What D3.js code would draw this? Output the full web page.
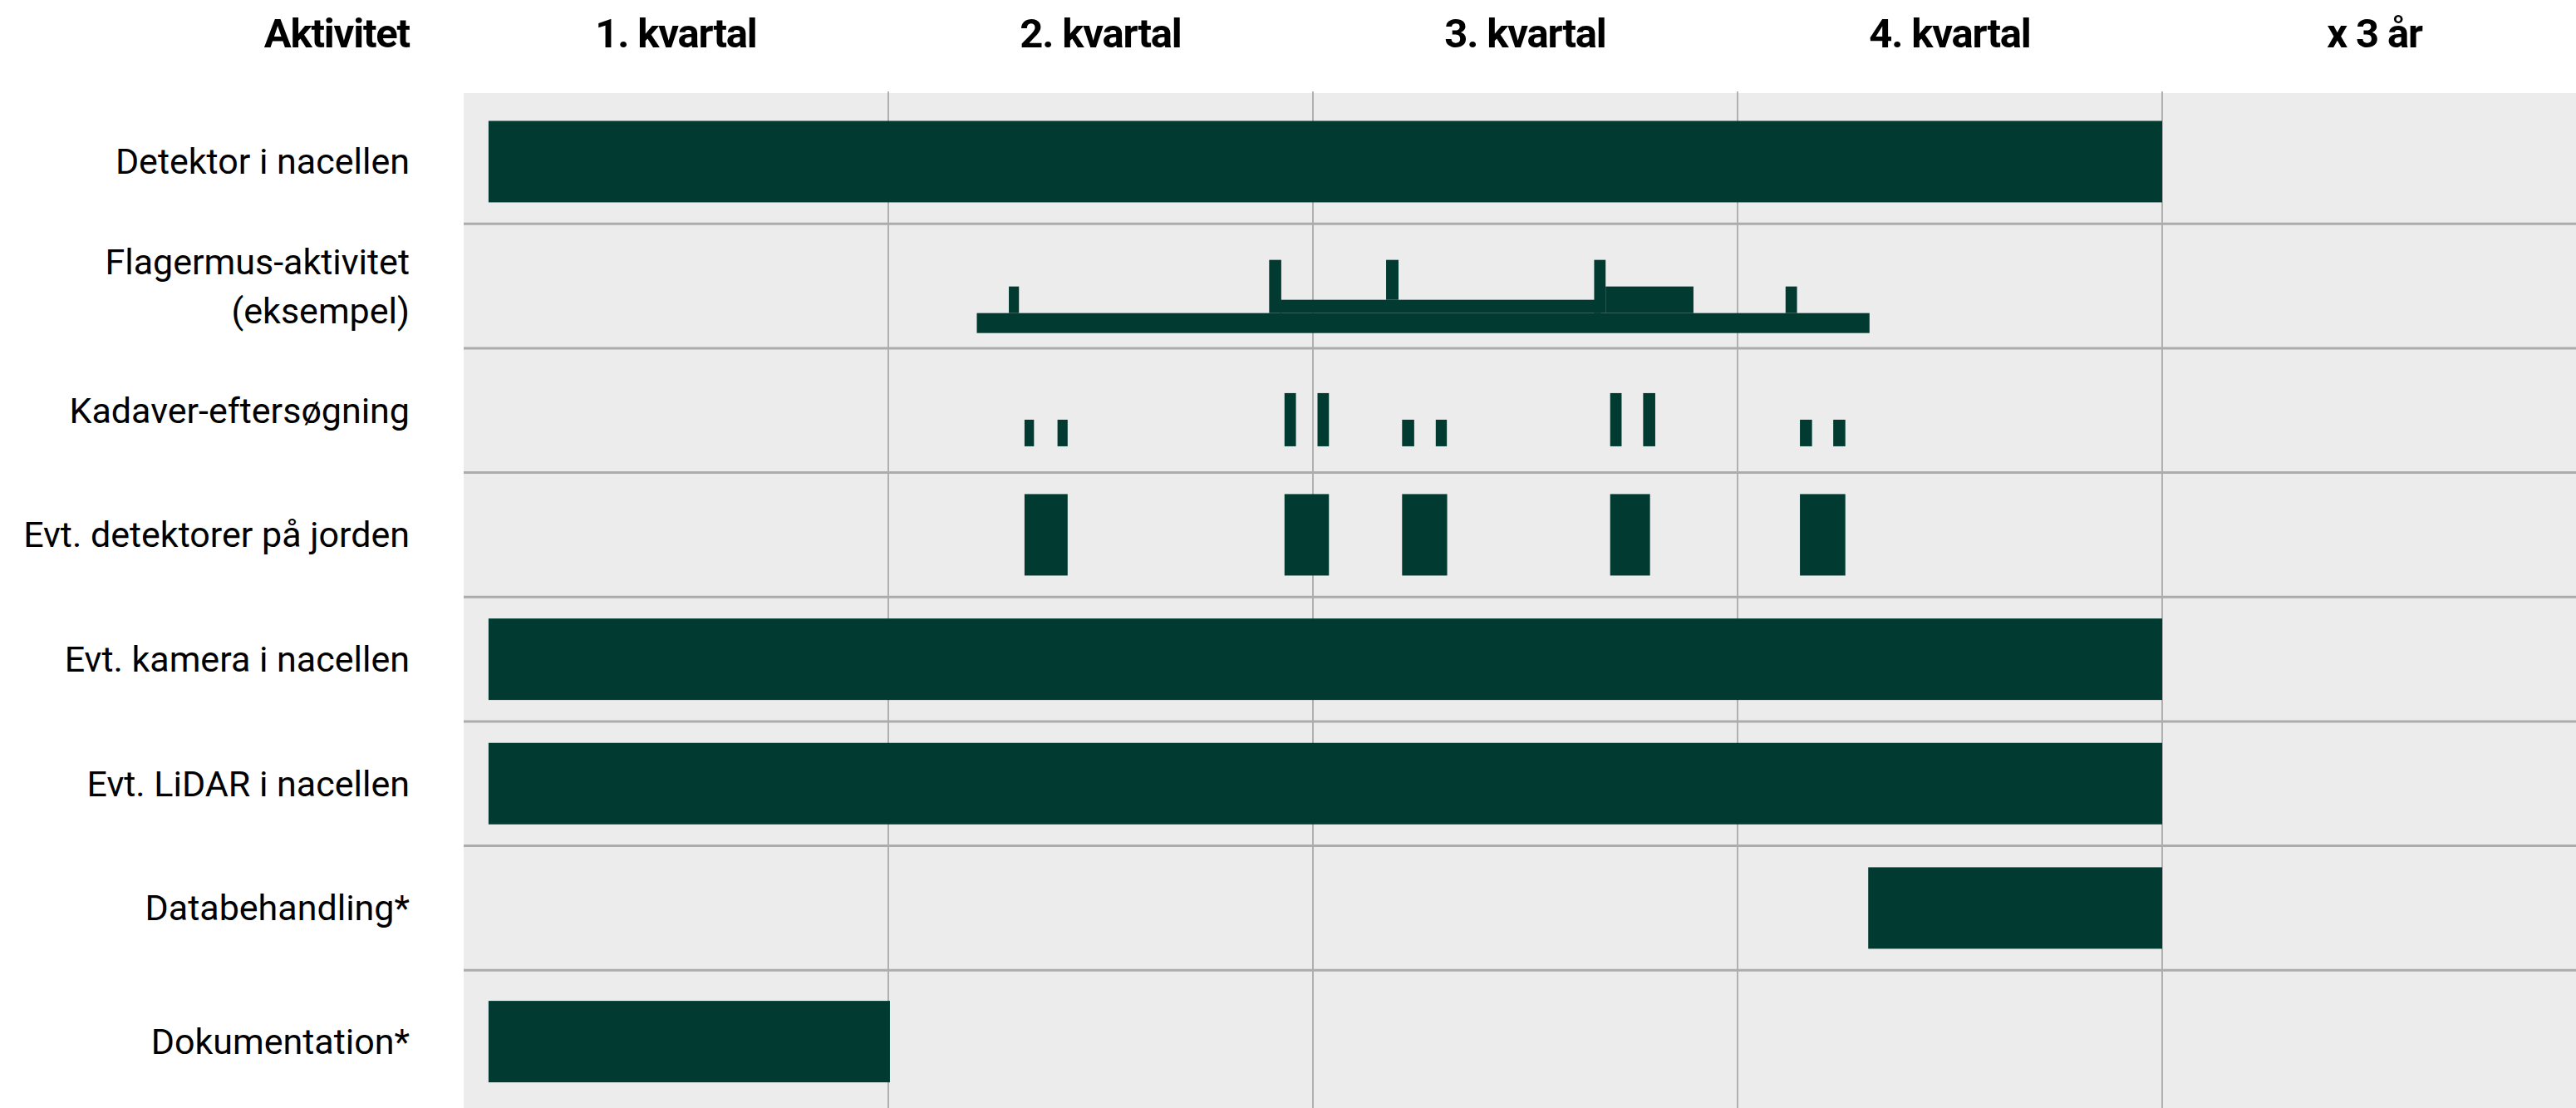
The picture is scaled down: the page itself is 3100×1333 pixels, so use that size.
<!DOCTYPE html>
<html>
<head>
<meta charset="utf-8">
<script src="https://cdn.jsdelivr.net/npm/d3@7"></script>
<style>
  body { margin: 0; background: #fff; }
  svg { display: block; font-family: Roboto, "Noto Sans", sans-serif; }
</style>
</head>
<body>
<div id="chart"></div>
<script>
// chart size
var width = 3100;
var height = 1333;

// column headers (quarters) and the activity rows
var columns = ["1. kvartal", "2. kvartal", "3. kvartal", "4. kvartal", "x 3 år"];
var weeksPerColumn = 13;
var activities = [
    "Detektor i nacellen",
    "Flagermus-aktivitet\n(eksempel)",
    "Kadaver-eftersøgning",
    "Evt. detektorer på jorden",
    "Evt. kamera i nacellen",
    "Evt. LiDAR i nacellen",
    "Databehandling*",
    "Dokumentation*"
];

// plain periods, in weeks from start of year
var periods = [
    {act: 0, start: 0.76, end: 52},
    {act: 3, start: 17.17, end: 18.49},
    {act: 3, start: 25.13, end: 26.49},
    {act: 3, start: 28.73, end: 30.11},
    {act: 3, start: 35.10, end: 36.32},
    {act: 3, start: 40.91, end: 42.30},
    {act: 4, start: 0.76, end: 52},
    {act: 5, start: 0.76, end: 52},
    {act: 6, start: 43.0, end: 52},
    {act: 7, start: 0.76, end: 13.05}
];

// bat activity example: week span and activity level (lo..hi)
var batActivity = [
    {start: 15.71, end: 43.04, lo: 0,   hi: 1.5},
    {start: 16.69, end: 17.00, lo: 1.5, hi: 3.5},
    {start: 24.66, end: 25.03, lo: 1.5, hi: 5.5},
    {start: 25.00, end: 34.82, lo: 1.5, hi: 2.5},
    {start: 28.24, end: 28.62, lo: 2.5, hi: 5.5},
    {start: 34.61, end: 34.96, lo: 1.5, hi: 5.5},
    {start: 34.96, end: 37.65, lo: 1.5, hi: 3.5},
    {start: 40.47, end: 40.82, lo: 1.5, hi: 3.5}
];

// carcass searches: week span and intensity
var carcassSearch = [
    {start: 17.17, end: 17.46, level: 1},
    {start: 18.18, end: 18.49, level: 1},
    {start: 25.13, end: 25.48, level: 2},
    {start: 26.14, end: 26.49, level: 2},
    {start: 28.73, end: 29.10, level: 1},
    {start: 29.76, end: 30.10, level: 1},
    {start: 35.10, end: 35.45, level: 2},
    {start: 36.11, end: 36.48, level: 2},
    {start: 40.91, end: 41.28, level: 1},
    {start: 41.93, end: 42.30, level: 1}
];

// styles
var bar_color = "#013a31";
var panel_color = "#ececec";
var hline_color = "#acacac";
var vline_color = "#9d9d9d";
var plot_left = 558;
var last_row_bottom = 1339;   // last row runs past the bottom edge

var svg = d3.select("#chart")
    .append("svg")
    .attr("width", width)
    .attr("height", height);

var x = d3.scaleLinear()
    .domain([0, columns.length * weeksPerColumn])
    .range([plot_left, 3113]);

var y = d3.scaleBand()
    .domain(d3.range(activities.length))
    .range([119.6, 1316.9]);

var bw = y.bandwidth();
var barH = 98;

function rowCenter(i) {
    if (i == activities.length - 1) return (y(i) + last_row_bottom) / 2;
    return y(i) + bw / 2;
}

// grey panel
svg.append("rect")
    .attr("x", plot_left)
    .attr("y", 112)
    .attr("width", width - plot_left)
    .attr("height", height - 112)
    .attr("fill", panel_color);

// vertical quarter lines
svg.append("g").selectAll("line")
    .data(d3.range(1, columns.length))
    .enter().append("line")
    .attr("x1", function(d) { return x(d * weeksPerColumn); })
    .attr("x2", function(d) { return x(d * weeksPerColumn); })
    .attr("y1", 110)
    .attr("y2", height)
    .attr("stroke", vline_color)
    .attr("stroke-width", 1.5);

// horizontal row lines
svg.append("g").selectAll("line")
    .data(d3.range(1, activities.length))
    .enter().append("line")
    .attr("x1", plot_left)
    .attr("x2", width)
    .attr("y1", function(d) { return y(d); })
    .attr("y2", function(d) { return y(d); })
    .attr("stroke", hline_color)
    .attr("stroke-width", 3);

// column headers
svg.append("g").selectAll("text")
    .data(columns)
    .enter().append("text")
    .attr("x", function(d, i) { return x((i + 0.5) * weeksPerColumn); })
    .attr("y", 56.5)
    .attr("text-anchor", "middle")
    .attr("font-size", 49)
    .attr("font-weight", 700)
    .attr("letter-spacing", -1.2)
    .attr("fill", "#000")
    .text(function(d) { return d; });

svg.append("text")
    .attr("x", 493)
    .attr("y", 56.5)
    .attr("text-anchor", "end")
    .attr("font-size", 49)
    .attr("font-weight", 700)
    .attr("letter-spacing", -1.2)
    .text("Aktivitet");

// row labels
var lineH = 59;
var labels = svg.append("g").selectAll("text")
    .data(activities)
    .enter().append("text")
    .attr("text-anchor", "end")
    .attr("font-size", 43)
    .attr("fill", "#000");

labels.each(function(d, i) {
    var lines = d.split("\n");
    var first = rowCenter(i) + 15 - (lines.length - 1) * lineH / 2;
    d3.select(this).selectAll("tspan")
        .data(lines)
        .enter().append("tspan")
        .attr("x", 493)
        .attr("y", function(l, j) { return first + j * lineH; })
        .text(function(l) { return l; });
});

// plain period bars
svg.append("g").selectAll("rect")
    .data(periods)
    .enter().append("rect")
    .attr("x", function(d) { return x(d.start); })
    .attr("width", function(d) { return x(d.end) - x(d.start); })
    .attr("y", function(d) { return rowCenter(d.act) - barH / 2; })
    .attr("height", barH)
    .attr("fill", bar_color);

// bat activity profile
var batRow = 1;
var yBat = d3.scaleLinear()
    .domain([0, 5.5])
    .range([y(batRow) + 131.4, y(batRow) + 43.4]);

svg.append("g").selectAll("rect")
    .data(batActivity)
    .enter().append("rect")
    .attr("x", function(d) { return x(d.start); })
    .attr("width", function(d) { return x(d.end) - x(d.start); })
    .attr("y", function(d) { return yBat(d.hi); })
    .attr("height", function(d) { return yBat(d.lo) - yBat(d.hi); })
    .attr("fill", bar_color);

// carcass searches
var carcassRow = 2;
var yCarcass = d3.scaleLinear()
    .domain([0, 2])
    .range([y(carcassRow) + 118, y(carcassRow) + 54]);

svg.append("g").selectAll("rect")
    .data(carcassSearch)
    .enter().append("rect")
    .attr("x", function(d) { return x(d.start); })
    .attr("width", function(d) { return x(d.end) - x(d.start); })
    .attr("y", function(d) { return yCarcass(d.level); })
    .attr("height", function(d) { return yCarcass(0) - yCarcass(d.level); })
    .attr("fill", bar_color);
</script>
</body>
</html>
